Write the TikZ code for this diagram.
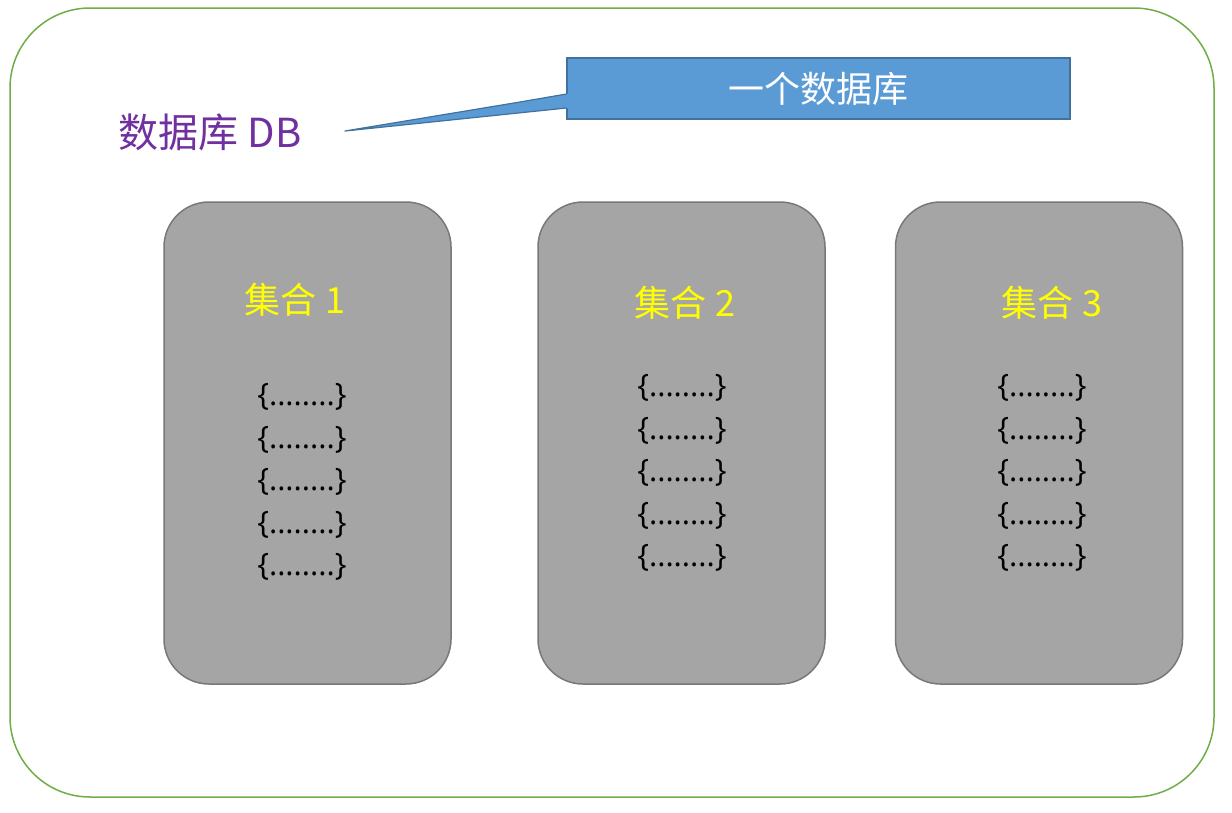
\documentclass[tikz,border=0pt]{standalone}
\usepackage{fontspec}
\setmainfont{Noto Sans CJK SC}
\newfontfamily\bracefont{Open Sans}
\usetikzlibrary{calc}
\definecolor{outergreen}{HTML}{70AD47}
\definecolor{boxgray}{HTML}{A5A5A5}
\definecolor{boxedge}{HTML}{787878}
\definecolor{callfill}{HTML}{5B9BD5}
\definecolor{calledge}{HTML}{41719C}
\definecolor{dbpurple}{HTML}{7030A0}
\definecolor{setyellow}{HTML}{FFFF00}
\tikzset{
  outerbox/.style={draw=outergreen, line width=1.5pt, rounded corners=80pt, minimum width=1204pt, minimum height=789pt, inner sep=0pt},
  setbox/.style={draw=boxedge, fill=boxgray, line width=1.5pt, rounded corners=45pt, minimum width=287pt, minimum height=482pt, inner sep=0pt},
  calloutbox/.style={draw=calledge, fill=callfill, line width=1.2pt, minimum width=503pt, minimum height=61pt, inner sep=0pt, text=white, font=\fontsize{36}{40}\selectfont},
  setlabel/.style={text=setyellow, font=\fontsize{36}{40}\selectfont, inner sep=0pt},
  doclines/.style={text=black, font=\bracefont\fontsize{31}{42.5}\selectfont, align=center, inner sep=0pt},
  dblabel/.style={text=dbpurple, font=\fontsize{40}{44}\selectfont, inner sep=0pt}
}
\begin{document}
\begin{tikzpicture}[x=1pt,y=-1pt]
\useasboundingbox (0,0) rectangle (1232,812);
\node[outerbox] (outer) at (612,402.5) {};
\node[setbox] (s1) at (307.5,443) {};
\node[setbox] (s2) at (681.5,443) {};
\node[setbox] (s3) at (1039,443) {};
\node[setlabel] (l1) at (295,300) {集合 1};
\node[setlabel] (l2) at (685,303) {集合 2};
\node[setlabel] (l3) at (1052,303) {集合 3};
\node[doclines] (d1) at (302,482) {\{........\}\\\{........\}\\\{........\}\\\{........\}\\\{........\}};
\node[doclines] (d2) at (682,473) {\{........\}\\\{........\}\\\{........\}\\\{........\}\\\{........\}};
\node[doclines] (d3) at (1042,473) {\{........\}\\\{........\}\\\{........\}\\\{........\}\\\{........\}};
\node[dblabel] (db) at (210,132) {数据库 DB};
\node[calloutbox] (call) at (818.5,88.5) {一个数据库};
\coordinate (tip) at (345,131);
\coordinate (kink) at (520,102);
\coordinate (atop) at ($(call.west)+(0,5.5)$);
\coordinate (abot) at ($(call.west)+(0,19.5)$);
\fill[callfill] (tip) -- (kink) -- (atop) -- ($(atop)+(3,0)$) -- ($(abot)+(3,0)$) -- (abot) -- cycle;
\draw[calledge, line width=1.2pt, line join=round] (atop) -- (kink) -- (tip) -- (abot);
\end{tikzpicture}
\end{document}
